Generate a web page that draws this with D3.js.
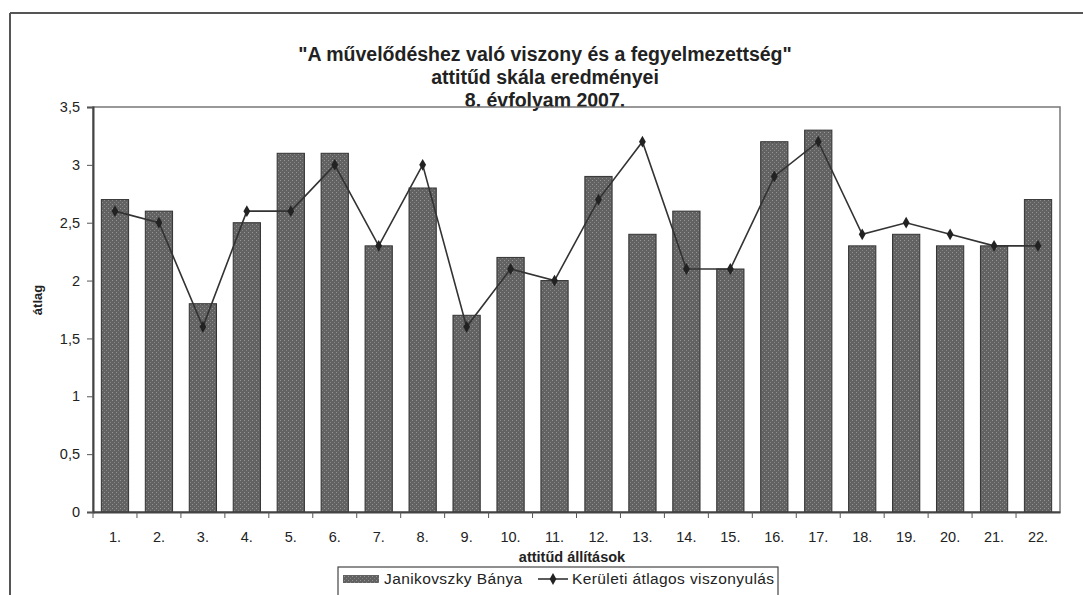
<!DOCTYPE html>
<html>
<head>
<meta charset="utf-8">
<script src="https://cdn.jsdelivr.net/npm/d3@7"></script>
<style>
  body { margin: 0; background: #fff; }
  svg { font-family: "Liberation Sans", Arial, sans-serif; }
</style>
</head>
<body>
<div id="chart"></div>
<script>
// adatok
var categories = ["1.", "2.", "3.", "4.", "5.", "6.", "7.", "8.", "9.", "10.", "11.",
                  "12.", "13.", "14.", "15.", "16.", "17.", "18.", "19.", "20.", "21.", "22."];
var janikovszky = [2.7, 2.6, 1.8, 2.5, 3.1, 3.1, 2.3, 2.8, 1.7, 2.2, 2.0,
                   2.9, 2.4, 2.6, 2.1, 3.2, 3.3, 2.3, 2.4, 2.3, 2.3, 2.7];
var keruleti = [2.6, 2.5, 1.6, 2.6, 2.6, 3.0, 2.3, 3.0, 1.6, 2.1, 2.0,
                2.7, 3.2, 2.1, 2.1, 2.9, 3.2, 2.4, 2.5, 2.4, 2.3, 2.3];
var yTicks = [0, 0.5, 1, 1.5, 2, 2.5, 3, 3.5];
var titleLines = ["\"A művelődéshez való viszony és a fegyelmezettség\"",
                  "attitűd skála eredményei",
                  "8. évfolyam 2007."];

var width = 1083, height = 595;
var plot = { left: 93, right: 1060, top: 107, bottom: 512 };

var svg = d3.select("#chart").append("svg")
    .attr("width", width)
    .attr("height", height);

// minta az oszlopokhoz
var defs = svg.append("defs");
var pat = defs.append("pattern")
    .attr("id", "dots")
    .attr("width", 4).attr("height", 4)
    .attr("patternUnits", "userSpaceOnUse");
pat.append("rect").attr("width", 4).attr("height", 4).attr("fill", "#626262");
pat.append("rect").attr("x", 0).attr("y", 0).attr("width", 1).attr("height", 1).attr("fill", "#959595");
pat.append("rect").attr("x", 2).attr("y", 2).attr("width", 1).attr("height", 1).attr("fill", "#868686");

// külső keret
svg.append("line").attr("x1", 10).attr("x2", width).attr("y1", 13).attr("y2", 13)
    .attr("stroke", "#555").attr("stroke-width", 2);
svg.append("line").attr("x1", 10).attr("x2", 10).attr("y1", 13).attr("y2", height)
    .attr("stroke", "#555").attr("stroke-width", 2);

// cím
svg.selectAll(".title")
    .data(titleLines)
    .enter()
    .append("text")
    .attr("x", 545)
    .attr("y", (d, i) => 61 + i * 23)
    .attr("text-anchor", "middle")
    .attr("font-size", 19.5)
    .attr("font-weight", "bold")
    .attr("fill", "#222")
    .text(d => d);

var x = d3.scaleBand()
    .domain(categories)
    .range([plot.left, plot.right])
    .paddingInner(0.38)
    .paddingOuter(0.19);

var xPos = d3.scaleBand()
    .domain(categories)
    .range([plot.left, plot.right]);

var y = d3.scaleLinear()
    .domain([0, 3.5])
    .range([plot.bottom, plot.top]);

// rajzterület kerete
svg.append("rect")
    .attr("x", plot.left).attr("y", plot.top)
    .attr("width", plot.right - plot.left)
    .attr("height", plot.bottom - plot.top)
    .attr("fill", "none")
    .attr("stroke", "#777")
    .attr("stroke-width", 1.5);

// oszlopok
svg.selectAll(".bar")
    .data(janikovszky)
    .enter()
    .append("rect")
    .attr("class", "bar")
    .attr("x", (d, i) => x(categories[i]))
    .attr("y", d => y(d))
    .attr("width", x.bandwidth())
    .attr("height", d => y(0) - y(d))
    .attr("fill", "url(#dots)")
    .attr("stroke", "#333")
    .attr("stroke-width", 1);

// y tengely
var yAxis = svg.append("g")
    .attr("transform", "translate(" + plot.left + ",0)")
    .call(d3.axisLeft(y)
        .tickValues(yTicks)
        .tickSize(6)
        .tickPadding(7)
        .tickFormat(d => String(d).replace(".", ",")));
yAxis.select(".domain").attr("stroke", "#444").attr("stroke-width", 2);
yAxis.selectAll(".tick line").attr("stroke", "#555");
yAxis.selectAll("text")
    .attr("font-size", 14.5)
    .attr("font-family", "Liberation Sans, Arial, sans-serif")
    .attr("fill", "#222");

// x tengely
var xAxis = svg.append("g")
    .attr("transform", "translate(0," + plot.bottom + ")")
    .call(d3.axisBottom(xPos).tickSize(0).tickPadding(20));
xAxis.select(".domain").attr("stroke", "#444").attr("stroke-width", 2);
xAxis.selectAll("text")
    .attr("font-size", 14.5)
    .attr("font-family", "Liberation Sans, Arial, sans-serif")
    .attr("fill", "#222");

// osztásjelek a kategóriák között
svg.selectAll(".xtick")
    .data(categories)
    .enter()
    .append("line")
    .attr("x1", d => xPos(d))
    .attr("x2", d => xPos(d))
    .attr("y1", plot.bottom)
    .attr("y2", plot.bottom + 6)
    .attr("stroke", "#555");

// vonal
var line = d3.line()
    .x((d, i) => xPos(categories[i]) + xPos.bandwidth() / 2)
    .y(d => y(d));

svg.append("path")
    .datum(keruleti)
    .attr("d", line)
    .attr("fill", "none")
    .attr("stroke", "#333")
    .attr("stroke-width", 1.6);

svg.selectAll(".marker")
    .data(keruleti)
    .enter()
    .append("path")
    .attr("d", d3.symbol().type(d3.symbolDiamond).size(40))
    .attr("transform", (d, i) => "translate(" + (xPos(categories[i]) + xPos.bandwidth() / 2) + "," + y(d) + ")")
    .attr("fill", "#222");

// tengelycímek
svg.append("text")
    .attr("transform", "translate(42,300) rotate(-90)")
    .attr("text-anchor", "middle")
    .attr("font-size", 13)
    .attr("font-weight", "bold")
    .attr("fill", "#222")
    .text("átlag");

svg.append("text")
    .attr("x", 572)
    .attr("y", 562)
    .attr("text-anchor", "middle")
    .attr("font-size", 14.5)
    .attr("font-weight", "bold")
    .attr("fill", "#222")
    .text("attitűd állítások");

// jelmagyarázat
var legend = svg.append("g");
legend.append("rect")
    .attr("x", 338).attr("y", 567)
    .attr("width", 440).attr("height", 40)
    .attr("fill", "#fff")
    .attr("stroke", "#444")
    .attr("stroke-width", 1.2);
legend.append("rect")
    .attr("x", 343).attr("y", 575)
    .attr("width", 36).attr("height", 8)
    .attr("fill", "url(#dots)");
legend.append("text")
    .attr("x", 384).attr("y", 584)
    .attr("font-size", 15.5)
    .attr("letter-spacing", 0.4)
    .attr("fill", "#222")
    .text("Janikovszky Bánya");
legend.append("line")
    .attr("x1", 538).attr("x2", 568)
    .attr("y1", 579).attr("y2", 579)
    .attr("stroke", "#333").attr("stroke-width", 1.6);
legend.append("path")
    .attr("d", d3.symbol().type(d3.symbolDiamond).size(40))
    .attr("transform", "translate(553,579)")
    .attr("fill", "#222");
legend.append("text")
    .attr("x", 572).attr("y", 584)
    .attr("font-size", 15.5)
    .attr("letter-spacing", 0.4)
    .attr("fill", "#222")
    .text("Kerületi átlagos viszonyulás");
</script>
</body>
</html>
